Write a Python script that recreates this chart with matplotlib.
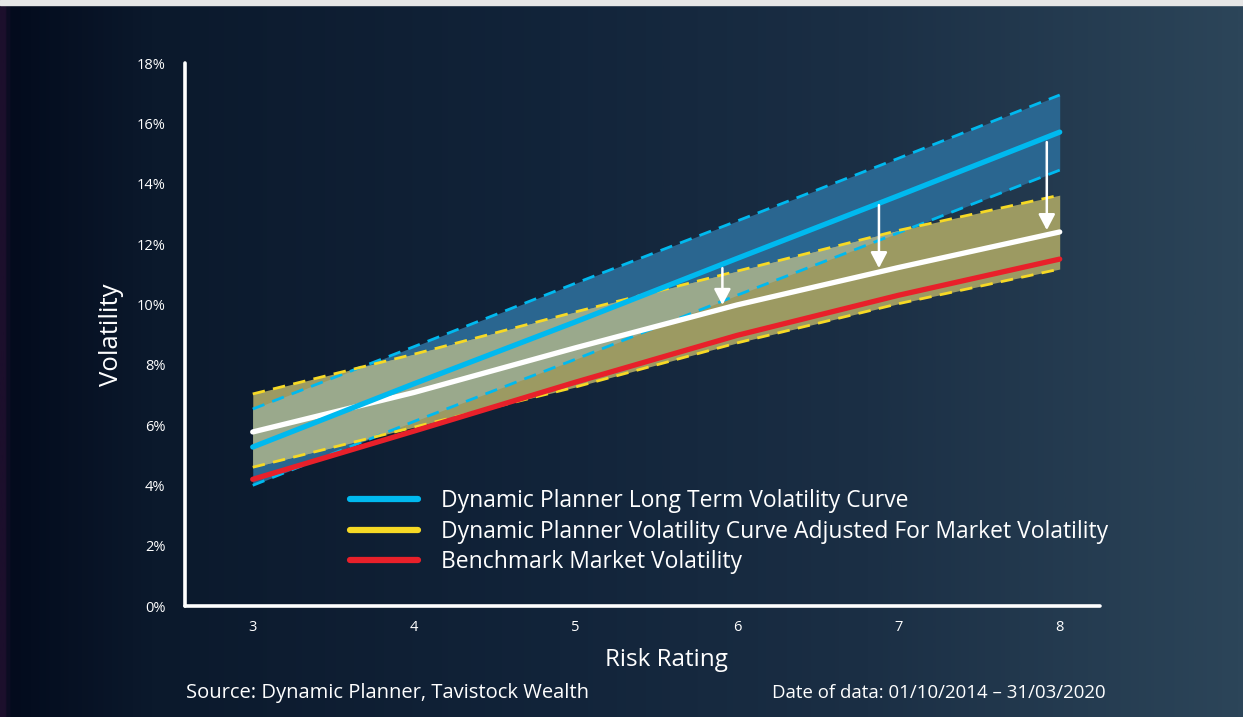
import numpy as np
import matplotlib.pyplot as plt
from matplotlib.colors import LinearSegmentedColormap

# values (volatility %, by risk rating)
risk = [3, 4, 5, 6, 7, 8]
dp_long = [5.27, 7.37, 9.42, 11.52, 13.6, 15.71]
dp_long_hi = [6.53, 8.6, 10.7, 12.76, 14.84, 16.94]
dp_long_lo = [4.0, 6.12, 8.18, 10.3, 12.37, 14.45]
dp_adj = [5.77, 7.08, 8.56, 9.98, 11.22, 12.4]
dp_adj_hi = [7.03, 8.35, 9.75, 11.1, 12.45, 13.62]
dp_adj_lo = [4.6, 5.93, 7.26, 8.72, 10.02, 11.17]
bench = [4.2, 5.8, 7.42, 8.97, 10.3, 11.5]

# arrows: x position, from, to
arrow_x = [5.91, 6.88, 7.92]
arrow_from = [11.2, 13.29, 15.38]
arrow_to = [9.98, 11.2, 12.46]

legend_labels = ['Dynamic Planner Long Term Volatility Curve',
                 'Dynamic Planner Volatility Curve Adjusted For Market Volatility',
                 'Benchmark Market Volatility']

BLUE = '#00b9ef'
YELLOW = '#f6d925'
RED = '#e8202a'
FONT = 'Open Sans'

plt.rcParams['font.family'] = FONT

fig = plt.figure(figsize=(12.43, 7.17), dpi=100)

# background gradient
bg = fig.add_axes([0, 0, 1, 1], zorder=-10)
cmap = LinearSegmentedColormap.from_list('bg', [
    (0.0, '#1c0f2c'), (0.006, '#030b1d'), (0.12, '#0b192c'),
    (0.45, '#12243a'), (0.7, '#1b2f45'), (1.0, '#2c4559')])
bg.imshow(np.linspace(0, 1, 600)[None, :], aspect='auto', cmap=cmap,
          extent=[0, 1, 0, 1])
bg.axhspan(1 - 5 / 717, 1, color='#e6e6e6')
bg.set_xlim(0, 1)
bg.set_ylim(0, 1)
bg.axis('off')

ax = fig.add_axes([0.1488, 0.1548, 0.7362, 0.7573])
ax.set_facecolor('none')
ax.set_xlim(2.58, 8.25)
ax.set_ylim(0, 18)

# bands
xs = np.linspace(3, 8, 501)
lhi = np.interp(xs, risk, dp_long_hi)
llo = np.interp(xs, risk, dp_long_lo)
ahi = np.interp(xs, risk, dp_adj_hi)
alo = np.interp(xs, risk, dp_adj_lo)
ax.fill_between(xs, llo, lhi, color='#2a6690', lw=0, zorder=1)
ax.fill_between(xs, alo, ahi, color='#9c9a62', lw=0, zorder=2)
top = np.minimum(lhi, ahi)
bot = np.maximum(llo, alo)
ax.fill_between(xs, bot, top, where=top > bot, color='#9aa98c', lw=0, zorder=3)

# dashed limits
for ser, c in [(dp_long_hi, BLUE), (dp_long_lo, BLUE), (dp_adj_hi, YELLOW), (dp_adj_lo, YELLOW)]:
    ax.plot(risk, ser, color=c, lw=2.0, dashes=(4.5, 3), zorder=4)

# main curves
ax.plot(risk, bench, color=RED, lw=3.8, solid_capstyle='round', zorder=5)
ax.plot(risk, dp_adj, color='white', lw=3.8, solid_capstyle='round', zorder=6)
ax.plot(risk, dp_long, color=BLUE, lw=3.8, solid_capstyle='round', zorder=7)

for x, y0, y1 in zip(arrow_x, arrow_from, arrow_to):
    ax.annotate('', xy=(x, y1), xytext=(x, y0),
                arrowprops=dict(arrowstyle='-|>,head_length=0.95,head_width=0.5',
                                color='white', lw=1.8, shrinkA=0, shrinkB=0),
                zorder=8)

# axes styling
for s in ['top', 'right']:
    ax.spines[s].set_visible(False)
for s in ['left', 'bottom']:
    ax.spines[s].set_color('white')
    ax.spines[s].set_linewidth(2.6)
    ax.spines[s].set_capstyle('round')

ax.set_yticks(np.arange(0, 19, 2))
ax.set_yticklabels([f'{v}%' for v in range(0, 19, 2)])
ax.set_xticks(risk)
ax.tick_params(length=0, colors='white', labelsize=10.5)
ax.tick_params(axis='y', pad=14)
ax.tick_params(axis='x', pad=10)
ax.set_xlabel('Risk Rating', color='white', fontsize=17.5)
ax.xaxis.set_label_coords(0.526, -0.077)
ax.set_ylabel('Volatility', color='white', fontsize=18.5, labelpad=9)

handles = [plt.Line2D([], [], color=c, lw=4.5, solid_capstyle='round')
           for c in [BLUE, YELLOW, RED]]
leg = fig.legend(handles, legend_labels, loc='upper left',
                 bbox_to_anchor=(0.2816, 0.318), frameon=False,
                 handlelength=2.95, handletextpad=1.0, labelspacing=0.29,
                 borderpad=0, borderaxespad=0, fontsize=16.5)
for t in leg.get_texts():
    t.set_color('white')

fig.text(186 / 1243, 1 - 693 / 717, 'Source: Dynamic Planner, Tavistock Wealth',
         color='white', fontsize=14.5, va='center', ha='left')
fig.text(1106 / 1243, 1 - 693 / 717, 'Date of data: 01/10/2014 \u2013 31/03/2020',
         color='white', fontsize=13.4, va='center', ha='right')

fig.savefig('out.png', dpi=100)
